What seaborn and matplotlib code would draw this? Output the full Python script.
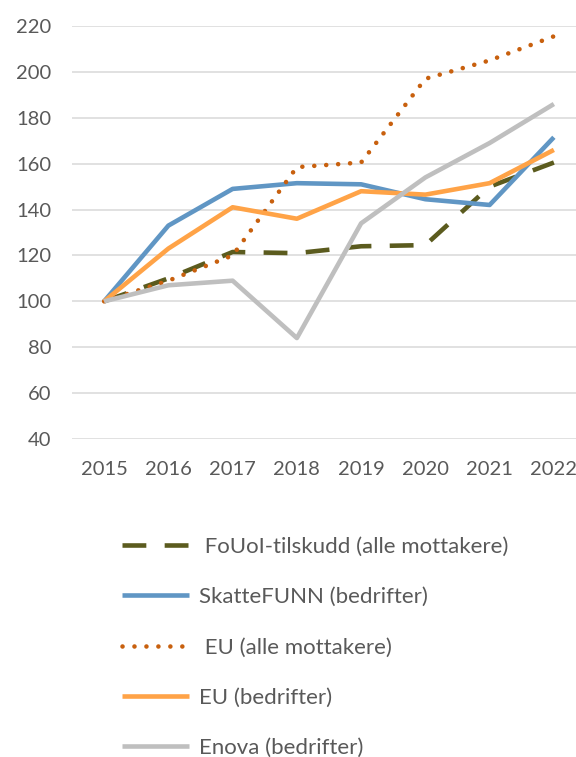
import matplotlib
matplotlib.use("Agg")
import matplotlib.pyplot as plt
import seaborn as sns
import pandas as pd

years = [2015, 2016, 2017, 2018, 2019, 2020, 2021, 2022]
fouoi = [100, 110, 121.5, 121, 124, 124.5, 150, 160.5]
skattefunn = [100, 133, 149, 151.5, 151, 144.5, 142, 171.5]
eu_alle = [100, 109, 120, 158.5, 160.5, 197, 205, 215.5]
eu_bedrifter = [100, 123, 141, 136, 148, 146.5, 151.5, 166]
enova = [100, 107, 109, 84, 134, 154, 169, 186]

labels = ["FoUoI-tilskudd (alle mottakere)", "SkatteFUNN (bedrifter)",
          "EU (alle mottakere)", "EU (bedrifter)", "Enova (bedrifter)"]
series = [fouoi, skattefunn, eu_alle, eu_bedrifter, enova]
colors = ["#5B5B1E", "#6096C4", "#C8600E", "#FFA347", "#BFBFBF"]
dotted = (0, (0.01, 2.6))
styles = [(0, (5.2, 4.0)), "-", dotted, "-", "-"]

sns.set_theme(style="white")
plt.rcParams["font.family"] = ["Lato", "DejaVu Sans"]

fig = plt.figure(figsize=(5.76, 7.57), dpi=100)
ax = fig.add_axes([72 / 576, (757 - 439) / 757, (586 - 72) / 576, 413 / 757])

lw = 3.3
for s, lab, c, ls in zip(series, labels, colors, styles):
    df = pd.DataFrame({"year": years, "value": s})
    sns.lineplot(data=df, x="year", y="value", ax=ax, color=c, linewidth=lw,
                 label=lab, legend=False)
    line = ax.lines[-1]
    line.set_linestyle(ls)
    if ls == dotted:
        line.set_dash_capstyle("round")
    line.set_solid_capstyle("butt")

ax.set_xlim(2014.5, 2022.5)
ax.set_ylim(40, 220)
ax.set_yticks(range(40, 221, 20))
ax.set_xticks(years)
ax.set_xticklabels([str(y) for y in years])
ax.grid(axis="y", color="#D9D9D9", linewidth=1.1)
ax.grid(axis="x", visible=False)
ax.set_axisbelow(True)
for sp in ax.spines.values():
    sp.set_visible(False)
ax.tick_params(axis="both", length=0, labelsize=14.5, colors="#595959")
ax.tick_params(axis="x", pad=16)
ax.tick_params(axis="y", pad=15)
ax.set_xlabel("")
ax.set_ylabel("")

handles = ax.lines[:5]
leg_labels = [" " + labels[0], labels[1], " " + labels[2], labels[3], labels[4]]
leg = fig.legend(handles, leg_labels, loc="upper left",
                 bbox_to_anchor=(122 / 576, 1 - 537 / 757),
                 frameon=False, fontsize=16, handlelength=3.0,
                 handletextpad=0.45, labelspacing=1.36, borderpad=0,
                 borderaxespad=0)
for t in leg.get_texts():
    t.set_color("#595959")

fig.savefig("out.png", dpi=100)
